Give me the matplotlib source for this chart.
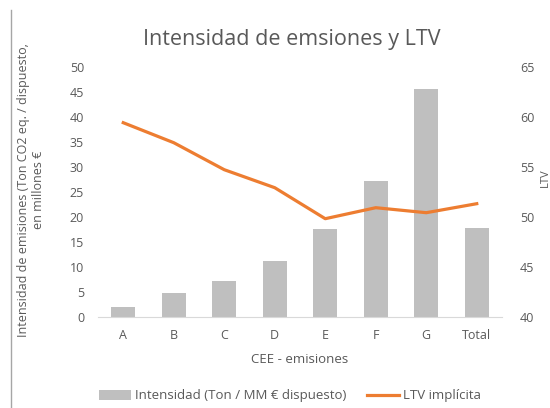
# libraries
import numpy as np
import matplotlib.pyplot as plt
from matplotlib.lines import Line2D

# data
categories = ['A', 'B', 'C', 'D', 'E', 'F', 'G', 'Total']
intensidad = [2.0, 4.8, 7.2, 11.1, 17.5, 27.2, 45.5, 17.8]
ltv = [59.4, 57.4, 54.7, 52.9, 49.8, 50.9, 50.4, 51.3]

text_color = '#595959'
plt.rcParams['font.family'] = ['Open Sans', 'DejaVu Sans']

fig = plt.figure(figsize=(5.5, 4.08), dpi=100)
ax = fig.add_axes([98 / 550, 1 - 316.7 / 408, 404 / 550, 250 / 408])
ax2 = ax.twinx()

x = np.arange(len(categories))
bars = ax.bar(x, intensidad, width=0.48, color='#BFBFBF', zorder=2)
line, = ax2.plot(x, ltv, color='#ED7D31', lw=2.3, zorder=3)

ax.set_xlim(-0.5, len(categories) - 0.5)
ax.set_ylim(0, 50)
ax.set_yticks(np.arange(0, 51, 5))
ax2.set_ylim(40, 65)
ax2.set_yticks(np.arange(40, 66, 5))
ax.set_xticks(x)
ax.set_xticklabels(categories)

for a in (ax, ax2):
    for s in a.spines.values():
        s.set_visible(False)
    a.tick_params(length=0, colors=text_color, labelsize=9)
ax.spines['bottom'].set_visible(True)
ax.spines['bottom'].set_color('#D9D9D9')
ax.tick_params(axis='x', pad=9)
ax.tick_params(axis='y', pad=10)
ax2.tick_params(axis='y', pad=13)
ax.set_zorder(ax2.get_zorder() - 1)
ax2.patch.set_visible(False)

ax.set_xlabel('CEE - emisiones', color=text_color, fontsize=9.5, labelpad=8)
fig.text(31 / 550, 1 - 190 / 408,
         'Intensidad de emisiones (Ton CO2 eq. / dispuesto,\nen millones €',
         rotation=90, ha='center', va='center', color=text_color,
         fontsize=9, linespacing=1.2)
fig.text(540 / 550, 1 - 178 / 408, 'LTV', rotation=90, ha='left',
         va='center', color=text_color, fontsize=8)

fig.text(292 / 550, 1 - 40 / 408, 'Intensidad de emsiones y LTV',
         ha='center', va='center', color=text_color, fontsize=15.5)

# frame line on the left
fig.add_artist(Line2D([11 / 550, 11 / 550], [0, 1 - 10 / 408],
                      color='#A6A6A6', lw=1))

handles = [bars, line]
labels = ['Intensidad (Ton / MM € dispuesto)', 'LTV implícita']
leg = fig.legend(handles, labels, loc='center', ncol=2, frameon=False,
                 bbox_to_anchor=(290 / 550, 1 - 396 / 408), fontsize=9.5,
                 handlelength=2.4, columnspacing=1.6, handletextpad=0.3)
for t in leg.get_texts():
    t.set_color(text_color)

fig.savefig('out.png', dpi=100)
